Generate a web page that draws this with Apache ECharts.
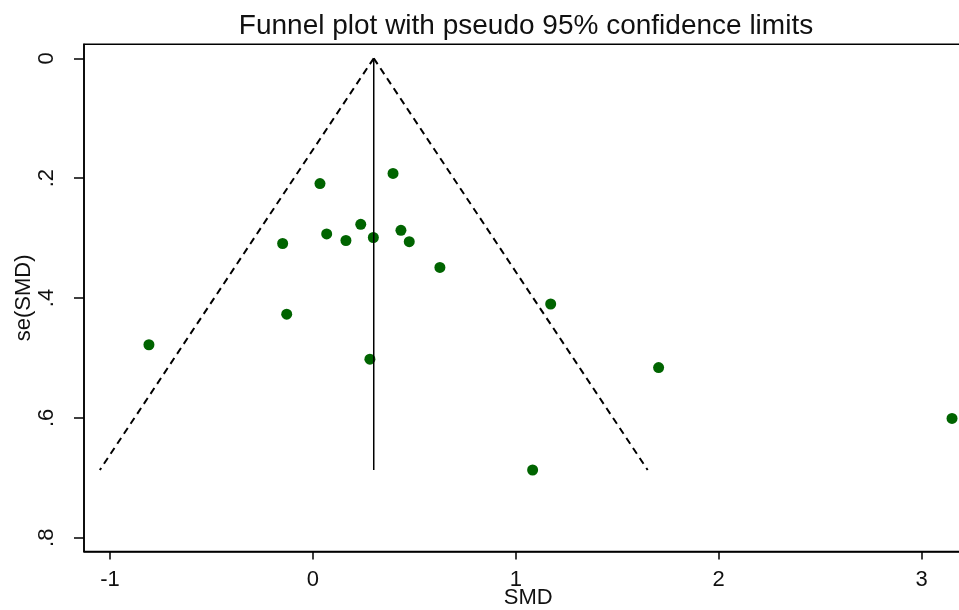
<!DOCTYPE html>
<html>
<head>
<meta charset="utf-8">
<script src="https://cdn.jsdelivr.net/npm/echarts@6/dist/echarts.min.js"></script>
<style>
  html, body { margin: 0; padding: 0; background: #ffffff; }
  #chart { width: 959px; height: 610px; }
</style>
</head>
<body>
<div id="chart"></div>
<script>
// Study-level effects: standardized mean difference and its standard error
const smd = [0.035, 0.395, -0.149, 0.068, 0.236, 0.163, 0.298, 0.434, 0.475, 0.626,
             -0.129, -0.808, 0.281, 1.172, 1.704, 3.150, 1.083];
const seSmd = [0.209, 0.192, 0.309, 0.293, 0.277, 0.304, 0.299, 0.287, 0.306, 0.349,
               0.427, 0.478, 0.502, 0.410, 0.516, 0.601, 0.687];

// Pooled estimate and pseudo 95% confidence limits (apex and bottom ends)
const pooledLine = [[0.30, 0], [0.30, 0.687]];
const lowerLimit = [[0.30, 0], [-1.05, 0.687]];
const upperLimit = [[0.30, 0], [1.65, 0.687]];

// Tick positions
const xTicks = [-1, 0, 1, 2, 3];
const yTicks = [0, 0.2, 0.4, 0.6, 0.8];

const FONT = '"Liberation Sans", Arial, sans-serif';
const INK = '#111111';

const points = smd.map((v, i) => [v, seSmd[i]]);

const chart = echarts.init(document.getElementById('chart'), null, { renderer: 'canvas' });

chart.setOption({
  backgroundColor: '#ffffff',
  animation: false,
  title: {
    text: 'Funnel plot with pseudo 95% confidence limits',
    left: 521,
    top: 7,
    textAlign: 'center',
    textStyle: { fontFamily: FONT, fontWeight: 'normal', fontSize: 28, color: INK }
  },
  grid: {
    left: 84, top: 44.3, right: -13.3, bottom: 58.5,
    outerBoundsMode: 'none',
    containLabel: false,
    show: true, borderColor: '#000000', borderWidth: 1.5, backgroundColor: '#ffffff'
  },
  xAxis: {
    type: 'value',
    min: -1.128, max: 3.25,
    name: 'SMD',
    nameLocation: 'middle',
    nameGap: 35,
    nameMoveOverlap: false,
    nameTextStyle: { fontFamily: FONT, fontSize: 22, color: INK },
    axisLine: { show: true, onZero: false, lineStyle: { color: '#000000', width: 1.5 } },
    axisTick: { show: true, length: 8, customValues: xTicks, lineStyle: { color: '#000000', width: 1.5 } },
    axisLabel: {
      customValues: xTicks, margin: 17,
      fontFamily: FONT, fontSize: 22, color: INK,
      formatter: v => String(v)
    },
    splitLine: { show: false }
  },
  yAxis: {
    type: 'value',
    inverse: true,
    min: -0.0234, max: 0.823,
    name: 'se(SMD)',
    nameLocation: 'middle',
    nameGap: 49,
    nameMoveOverlap: false,
    nameRotate: 90,
    nameTextStyle: { fontFamily: FONT, fontSize: 22, color: INK },
    axisLine: { show: true, onZero: false, lineStyle: { color: '#000000', width: 1.5 } },
    axisTick: { show: true, length: 10, customValues: yTicks, lineStyle: { color: '#000000', width: 1.5 } },
    axisLabel: {
      customValues: yTicks, rotate: 90, margin: 26,
      fontFamily: FONT, fontSize: 22, color: INK,
      formatter: v => (v === 0 ? '0' : String(Math.round(v * 10) / 10).replace(/^0/, ''))
    },
    splitLine: { show: false }
  },
  series: [
    {
      type: 'line', data: lowerLimit, symbol: 'none', silent: true,
      lineStyle: { color: '#000000', width: 2, type: [7, 5] }
    },
    {
      type: 'line', data: upperLimit, symbol: 'none', silent: true,
      lineStyle: { color: '#000000', width: 2, type: [7, 5] }
    },
    {
      type: 'line', data: pooledLine, symbol: 'none', silent: true,
      lineStyle: { color: '#000000', width: 1.5 }
    },
    {
      type: 'scatter', data: points, symbol: 'circle', symbolSize: 11,
      itemStyle: { color: '#006400', opacity: 1 }
    }
  ]
});
</script>
</body>
</html>
